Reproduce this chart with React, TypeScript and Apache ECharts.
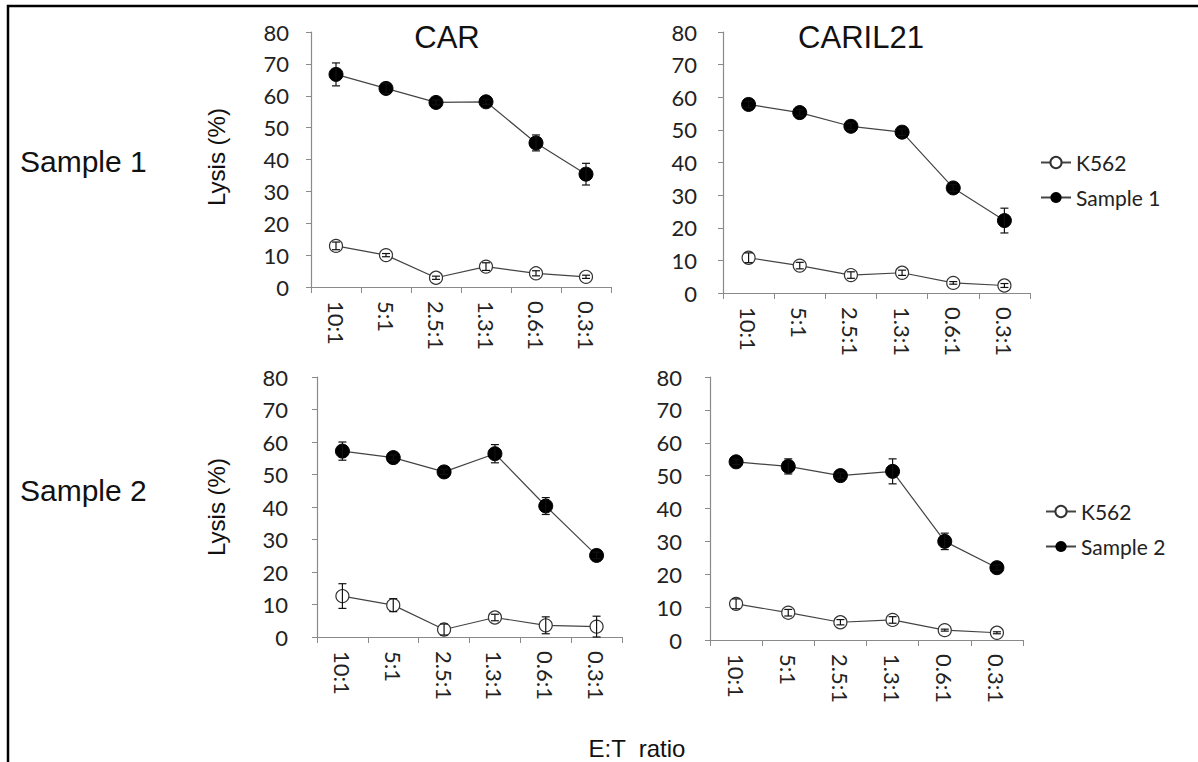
import React, { useEffect, useRef } from "react";
import * as echarts from "echarts";

const categories = ["10:1", "5:1", "2.5:1", "1.3:1", "0.6:1", "0.3:1"];

// Panel 1: CAR / Sample 1
const carS1 = [66.7, 62.3, 57.9, 58.1, 45.2, 35.4];
const carS1Err = [3.6, 1.6, 0.8, 0.8, 2.5, 3.4];
const carK1 = [12.9, 10.0, 2.9, 6.4, 4.3, 3.2];
const carK1Err = [1.2, 0.5, 0.5, 1.2, 0.8, 0.5];
// Panel 2: CARIL21 / Sample 1
const carilS1 = [57.8, 55.3, 51.1, 49.3, 32.2, 22.2];
const carilS1Err = [1.0, 1.0, 1.0, 1.0, 1.0, 3.8];
const carilK1 = [10.8, 8.4, 5.5, 6.2, 3.1, 2.3];
const carilK1Err = [1.5, 1.0, 1.0, 0.8, 0.4, 0.6];
// Panel 3: CAR / Sample 2
const carS2 = [57.2, 55.2, 50.8, 56.4, 40.3, 25.1];
const carS2Err = [2.8, 0.8, 0.8, 2.8, 2.6, 1.0];
const carK2 = [12.6, 9.8, 2.3, 6.0, 3.6, 3.2];
const carK2Err = [3.8, 2.0, 1.7, 1.0, 2.6, 3.2];
// Panel 4: CARIL21 / Sample 2
const carilS2 = [54.2, 52.8, 50.0, 51.3, 30.0, 22.0];
const carilS2Err = [0.8, 2.3, 0.8, 3.8, 2.5, 0.8];
const carilK2 = [11.0, 8.3, 5.4, 6.1, 3.0, 2.2];
const carilK2Err = [1.5, 1.0, 0.8, 1.0, 0.3, 0.3];

const yMin = 0;
const yMax = 80;
const yInterval = 10;

const panelTitles = ["CAR", "CARIL21"];
const rowLabels = ["Sample 1", "Sample 2"];
const yAxisName = "Lysis (%)";
const xAxisName = "E:T  ratio";

const TICK_FONT = "Lato, 'Noto Sans', sans-serif";
const ARIAL = "'Liberation Sans', Arial, sans-serif";

export default function App() {
  const ref = useRef<HTMLDivElement>(null);
  useEffect(() => {
    if (!ref.current) return;
    const chart = echarts.init(ref.current, undefined, { renderer: "svg" });

    const grids = [
      { left: 311, top: 32, width: 300, height: 255, ylm: 22 },
      { left: 723, top: 32, width: 307, height: 261, ylm: 26 },
      { left: 317, top: 377, width: 305, height: 260, ylm: 29 },
      { left: 710, top: 377, width: 313, height: 263, ylm: 28 },
    ];

    const panels = [
      { k: carK1, kErr: carK1Err, s: carS1, sErr: carS1Err, sName: "Sample 1" },
      { k: carilK1, kErr: carilK1Err, s: carilS1, sErr: carilS1Err, sName: "Sample 1" },
      { k: carK2, kErr: carK2Err, s: carS2, sErr: carS2Err, sName: "Sample 2" },
      { k: carilK2, kErr: carilK2Err, s: carilS2, sErr: carilS2Err, sName: "Sample 2" },
    ];

    const renderErr = (params: any, api: any) => {
      const x = api.value(0);
      const lo = api.value(1);
      const hi = api.value(2);
      const p1 = api.coord([x, hi]);
      const p2 = api.coord([x, lo]);
      const w = 4;
      const st = { stroke: "#111", lineWidth: 1.2 };
      return {
        type: "group",
        children: [
          { type: "line", shape: { x1: p1[0], y1: p1[1], x2: p2[0], y2: p2[1] }, style: st },
          { type: "line", shape: { x1: p1[0] - w, y1: p1[1], x2: p1[0] + w, y2: p1[1] }, style: st },
          { type: "line", shape: { x1: p2[0] - w, y1: p2[1], x2: p2[0] + w, y2: p2[1] }, style: st },
        ],
      };
    };

    const series: any[] = [];
    panels.forEach((p, i) => {
      series.push({
        name: "K562",
        type: "line",
        xAxisIndex: i,
        yAxisIndex: i,
        data: p.k,
        symbol: "circle",
        symbolSize: 13,
        itemStyle: { color: "#fff", borderColor: "#333", borderWidth: 1.2 },
        lineStyle: { color: "#444", width: 1.2 },
        z: 2,
      });
      series.push({
        name: p.sName,
        type: "line",
        xAxisIndex: i,
        yAxisIndex: i,
        data: p.s,
        symbol: "circle",
        symbolSize: 14,
        itemStyle: { color: "#000", borderColor: "#000" },
        lineStyle: { color: "#444", width: 1.2 },
        z: 2,
      });
      series.push({
        name: "err-k-" + i,
        type: "custom",
        xAxisIndex: i,
        yAxisIndex: i,
        data: p.k.map((v, j) => [j, v - p.kErr[j], v + p.kErr[j]]),
        encode: { x: 0, y: [1, 2] },
        renderItem: renderErr,
        z: 4,
      });
      series.push({
        name: "err-s-" + i,
        type: "custom",
        xAxisIndex: i,
        yAxisIndex: i,
        data: p.s.map((v, j) => [j, v - p.sErr[j], v + p.sErr[j]]),
        encode: { x: 0, y: [1, 2] },
        renderItem: renderErr,
        z: 4,
      });
    });

    const axisColor = "#8a8a8a";

    const option: any = {
      animation: false,
      backgroundColor: "#fff",
      grid: grids.map((g) => ({ left: g.left, top: g.top, width: g.width, height: g.height, containLabel: false })),
      xAxis: grids.map((g, i) => ({
        type: "category",
        gridIndex: i,
        data: categories,
        boundaryGap: true,
        axisLine: { lineStyle: { color: axisColor, width: 1.2 } },
        axisTick: { show: true, length: 6, lineStyle: { color: axisColor } },
        axisLabel: {
          rotate: -90,
          interval: 0,
          margin: 14,
          color: "#222",
          fontSize: 22,
          fontFamily: TICK_FONT,
        },
        splitLine: { show: false },
      })),
      yAxis: grids.map((g, i) => ({
        type: "value",
        gridIndex: i,
        min: yMin,
        max: yMax,
        interval: yInterval,
        axisLine: { show: true, lineStyle: { color: axisColor, width: 1.2 } },
        axisTick: { show: true, length: 5, lineStyle: { color: axisColor } },
        axisLabel: { margin: g.ylm, color: "#222", fontSize: 22, fontFamily: TICK_FONT },
        splitLine: { show: false },
      })),
      legend: [
        {
          data: ["K562", "Sample 1"],
          orient: "vertical",
          left: 1040,
          top: 152,
          padding: 0,
          itemWidth: 30,
          itemHeight: 14,
          itemGap: 14,
          selectedMode: false,
          textStyle: { fontSize: 21, color: "#222", fontFamily: TICK_FONT },
        },
        {
          data: ["K562", "Sample 2"],
          orient: "vertical",
          left: 1045,
          top: 501,
          padding: 0,
          itemWidth: 30,
          itemHeight: 14,
          itemGap: 14,
          selectedMode: false,
          textStyle: { fontSize: 21, color: "#222", fontFamily: TICK_FONT },
        },
      ],
      graphic: [
        {
          type: "rect",
          shape: { x: 8, y: 6, width: 1250, height: 800 },
          style: { fill: "none", stroke: "#000", lineWidth: 2.5 },
          silent: true,
        },
        {
          type: "text",
          x: 447,
          y: 37,
          style: { text: panelTitles[0], font: `31px ${ARIAL}`, fill: "#111", textAlign: "center", textVerticalAlign: "middle" },
        },
        {
          type: "text",
          x: 861,
          y: 37,
          style: { text: panelTitles[1], font: `31px ${ARIAL}`, fill: "#111", textAlign: "center", textVerticalAlign: "middle" },
        },
        {
          type: "text",
          x: 20,
          y: 161,
          style: { text: rowLabels[0], font: `30px ${ARIAL}`, fill: "#111", textAlign: "left", textVerticalAlign: "middle" },
        },
        {
          type: "text",
          x: 20,
          y: 490,
          style: { text: rowLabels[1], font: `30px ${ARIAL}`, fill: "#111", textAlign: "left", textVerticalAlign: "middle" },
        },
        {
          type: "text",
          x: 216,
          y: 157,
          rotation: Math.PI / 2,
          style: { text: yAxisName, font: `24px ${ARIAL}`, fill: "#111", textAlign: "center", textVerticalAlign: "middle" },
        },
        {
          type: "text",
          x: 216,
          y: 507,
          rotation: Math.PI / 2,
          style: { text: yAxisName, font: `24px ${ARIAL}`, fill: "#111", textAlign: "center", textVerticalAlign: "middle" },
        },
        {
          type: "text",
          x: 637,
          y: 748,
          style: { text: xAxisName, font: `24px ${ARIAL}`, fill: "#111", textAlign: "center", textVerticalAlign: "middle" },
        },
      ],
      series,
    };

    chart.setOption(option);
    return () => chart.dispose();
  }, []);

  return (
    <div
      ref={ref}
      style={{ position: "fixed", left: 0, top: 0, width: 1198, height: 762, background: "#fff" }}
    />
  );
}
